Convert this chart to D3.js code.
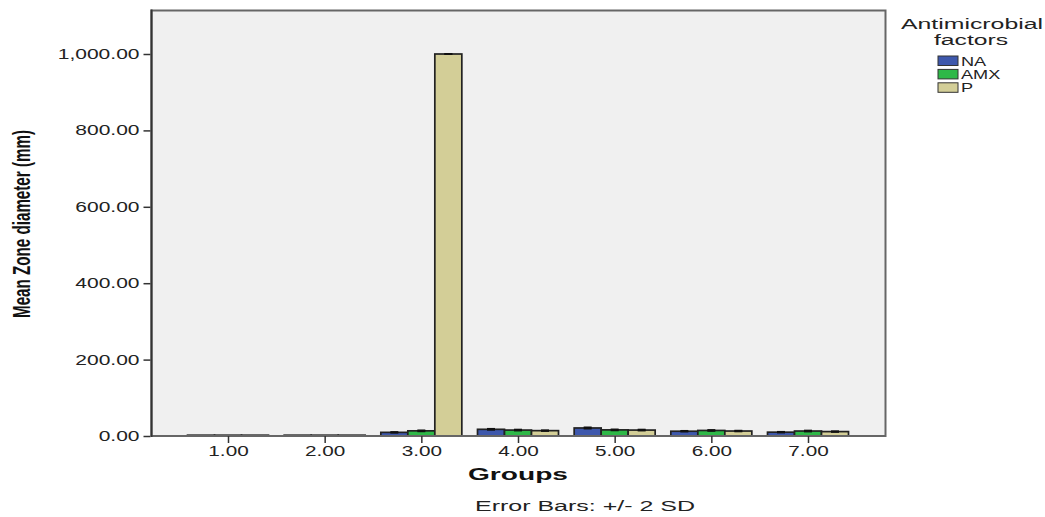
<!DOCTYPE html>
<html><head><meta charset="utf-8">
<script src="https://cdn.jsdelivr.net/npm/d3@7"></script>
<style>body{margin:0;background:#fff;}svg{display:block;font-family:"Liberation Sans",Arial,sans-serif;}</style>
</head><body>
<svg id="chart" width="1045" height="517"></svg>
<script>
const groups = ["1.00","2.00","3.00","4.00","5.00","6.00","7.00"];
const seriesNames = ["NA","AMX","P"];
const naValues  = [0, 0, 9.5, 17.5, 21, 12.5, 10];
const amxValues = [0, 0, 13.5, 15.5, 16, 14.5, 13];
const pValues   = [0, 0, 1000, 14, 15.5, 13, 11.5];
const naErr  = [0, 0, 1.2, 1.5, 1.8, 1.2, 1.2];
const amxErr = [0, 0, 1.5, 1.5, 1.5, 1.5, 1.5];
const pErr   = [0, 0, 0.5, 1.2, 1.5, 1.2, 1.2];
const yTicks = [0, 200, 400, 600, 800, 1000];
const colors = ["#3E58AC", "#2EB848", "#D3CE97"];

const svg = d3.select("#chart");
const L = 151.5, R = 885.5, T = 10.5, B = 436;
const y = d3.scaleLinear().domain([0, 1000]).range([B, 54]);
const x = d3.scalePoint().domain(groups).range([L + 76.5, R - 77.5]);
const sub = d3.scaleBand().domain(seriesNames).range([-40.5, 40.5]);

function stretch(sel, k) {
  sel.each(function () {
    const n = this.getComputedTextLength();
    d3.select(this).attr("textLength", n * k).attr("lengthAdjust", "spacingAndGlyphs");
  });
}
function fitWidth(sel, w) {
  sel.attr("textLength", w).attr("lengthAdjust", "spacingAndGlyphs");
}

// plot background
svg.append("rect").attr("x", L).attr("y", T).attr("width", R - L).attr("height", B - T)
  .attr("fill", "#f0f0f0");

const allVals = [naValues, amxValues, pValues];
const allErr = [naErr, amxErr, pErr];
const rows = [];
groups.forEach((g, i) => seriesNames.forEach((s, j) => rows.push({g, s, j, v: allVals[j][i], e: allErr[j][i]})));

svg.append("g").selectAll("rect").data(rows).join("rect")
  .attr("x", d => x(d.g) + sub(d.s))
  .attr("y", d => Math.min(y(d.v), B - 0.8))
  .attr("width", sub.bandwidth())
  .attr("height", d => Math.max(0.8, B - y(d.v)))
  .attr("fill", d => colors[d.j])
  .attr("stroke", "#222").attr("stroke-width", 1.7);

// error bars
const eg = svg.append("g").attr("stroke", "#111").attr("stroke-width", 1.6);
rows.filter(d => d.v > 0).forEach(d => {
  const cx = x(d.g) + sub(d.s) + sub.bandwidth() / 2;
  eg.append("line").attr("x1", cx).attr("x2", cx).attr("y1", y(d.v + d.e)).attr("y2", y(d.v - d.e));
  eg.append("line").attr("x1", cx - 4).attr("x2", cx + 4).attr("y1", y(d.v + d.e)).attr("y2", y(d.v + d.e));
  eg.append("line").attr("x1", cx - 4).attr("x2", cx + 4).attr("y1", y(d.v - d.e)).attr("y2", y(d.v - d.e));
});

// frame
svg.append("path").attr("d", `M${L},${B}V${T}H${R}V${B}H${L}`)
  .attr("fill", "none").attr("stroke", "#666").attr("stroke-width", 2);
svg.append("line").attr("x1", L).attr("x2", L).attr("y1", T - 1).attr("y2", B + 1)
  .attr("stroke", "#333").attr("stroke-width", 2);

// y axis
const yAxis = d3.axisLeft(y).tickValues(yTicks).tickSize(7).tickPadding(4)
  .tickFormat(d3.format(",.2f"));
const ya = svg.append("g").attr("transform", `translate(${L - 1},0)`).call(yAxis);
ya.select(".domain").remove();
ya.selectAll("line").attr("stroke", "#333").attr("stroke-width", 1.5);
ya.selectAll("text").attr("font-size", 14).attr("fill", "#222").attr("font-family", "Liberation Sans, Arial, sans-serif");
stretch(ya.selectAll("text"), 1.5);

// x axis
const xAxis = d3.axisBottom(x).tickSize(7).tickPadding(3);
const xa = svg.append("g").attr("transform", `translate(0,${B})`).call(xAxis);
xa.select(".domain").remove();
xa.selectAll("line").attr("stroke", "#333").attr("stroke-width", 1.5);
xa.selectAll("text").attr("font-size", 14).attr("fill", "#222").attr("font-family", "Liberation Sans, Arial, sans-serif");
stretch(xa.selectAll("text"), 1.48);

// axis titles
svg.append("text").attr("transform", "translate(30,224) rotate(-90) scale(1,1.5)")
  .attr("text-anchor", "middle").attr("font-weight", "bold").attr("font-size", 15.5)
  .attr("fill", "#111").attr("textLength", 188).attr("lengthAdjust", "spacingAndGlyphs")
  .text("Mean Zone diameter (mm)");
const gt = svg.append("text").attr("x", 518).attr("y", 480).attr("text-anchor", "middle")
  .attr("font-weight", "bold").attr("font-size", 16.5).attr("fill", "#111").text("Groups");
fitWidth(gt, 100);
const et = svg.append("text").attr("x", 585).attr("y", 511).attr("text-anchor", "middle")
  .attr("font-size", 15.5).attr("fill", "#222").text("Error Bars: +/- 2 SD");
fitWidth(et, 220);

// legend
const t1 = svg.append("text").attr("x", 972).attr("y", 29).attr("text-anchor", "middle")
  .attr("font-size", 14).attr("fill", "#222").text("Antimicrobial");
fitWidth(t1, 142);
const t2 = svg.append("text").attr("x", 971).attr("y", 45).attr("text-anchor", "middle")
  .attr("font-size", 14).attr("fill", "#222").text("factors");
fitWidth(t2, 74);
const lg = svg.append("g").selectAll("g").data(seriesNames).join("g")
  .attr("transform", (d, i) => `translate(938,${56 + i * 13.4})`);
lg.append("rect").attr("width", 20).attr("height", 9.5).attr("fill", (d, i) => colors[i])
  .attr("stroke", "#333").attr("stroke-width", 1);
const lt = lg.append("text").attr("x", 23).attr("y", 9.5).attr("font-size", 12.5).attr("fill", "#222").text(d => d);
stretch(lt, 1.45);
</script>
</body></html>
